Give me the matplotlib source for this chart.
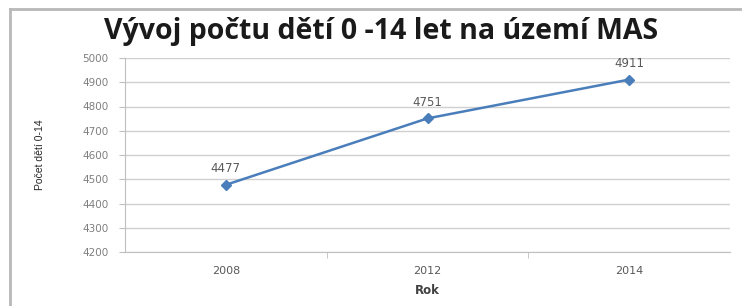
import matplotlib
matplotlib.use("Agg")
import matplotlib.pyplot as plt
from matplotlib.lines import Line2D

years = ["2008", "2012", "2014"]
values = [4477, 4751, 4911]
yticks = [4200, 4300, 4400, 4500, 4600, 4700, 4800, 4900, 5000]
title = "Vývoj počtu dětí 0 -14 let na území MAS"
ylabel = "Počet dětí 0-14"
xlabel = "Rok"

W, H = 742, 306
fig = plt.figure(figsize=(W / 100, H / 100), dpi=100)
fig.patch.set_facecolor("white")

# outer chart border (left and top)
fig.add_artist(Line2D([10 / W, 10 / W], [0, 1 - 9 / H], transform=fig.transFigure,
                      color="#b8b8b8", lw=2))
fig.add_artist(Line2D([10 / W, 1], [1 - 9 / H, 1 - 9 / H], transform=fig.transFigure,
                      color="#b8b8b8", lw=2))

left, right, top, bottom = 125, 730, 58, 252
ax = fig.add_axes([left / W, 1 - bottom / H, (right - left) / W, (bottom - top) / H])

x = list(range(len(years)))
ax.plot(x, values, color="#4a7ebb", lw=1.8, marker="D", markersize=5,
        markerfacecolor="#4a7ebb", markeredgecolor="#4a7ebb")
for xi, v in zip(x, values):
    ax.annotate(str(v), (xi, v), xytext=(0, 7), textcoords="offset points",
                ha="center", va="bottom", fontsize=8.5, color="#595959",
                family="DejaVu Sans")

ax.set_xlim(-0.5, len(years) - 0.5)
ax.set_ylim(4200, 5000)
ax.set_yticks(yticks)
ax.set_yticklabels([str(t) for t in yticks], fontsize=7.5, color="#7f7f7f")
ax.set_xticks(x)
ax.set_xticklabels(years, fontsize=8, color="#595959")
ax.set_xticks([0.5, 1.5], minor=True)
ax.tick_params(axis="x", which="major", length=0, pad=10)
ax.tick_params(axis="x", which="minor", length=4, color="#bfbfbf", direction="out")
ax.tick_params(axis="y", length=4, color="#bfbfbf", direction="out", pad=8)
ax.grid(axis="y", color="#d0d0d0", lw=1)
ax.set_axisbelow(True)
for s in ["top", "right"]:
    ax.spines[s].set_visible(False)
for s in ["left", "bottom"]:
    ax.spines[s].set_color("#bfbfbf")

ax.set_xlabel(xlabel, fontsize=8.5, fontweight="bold", color="#404040", labelpad=6)
ax.set_ylabel(ylabel, fontsize=7.5, color="#262626", family="Liberation Sans")
ax.yaxis.set_label_coords((45 - left) / (right - left), 0.5)

fig.text(381 / W, 1 - 32 / H, title, ha="center", va="center", fontsize=20.5,
         fontweight="bold", color="#1a1a1a", family="Open Sans")

fig.savefig("out.png", dpi=100)
